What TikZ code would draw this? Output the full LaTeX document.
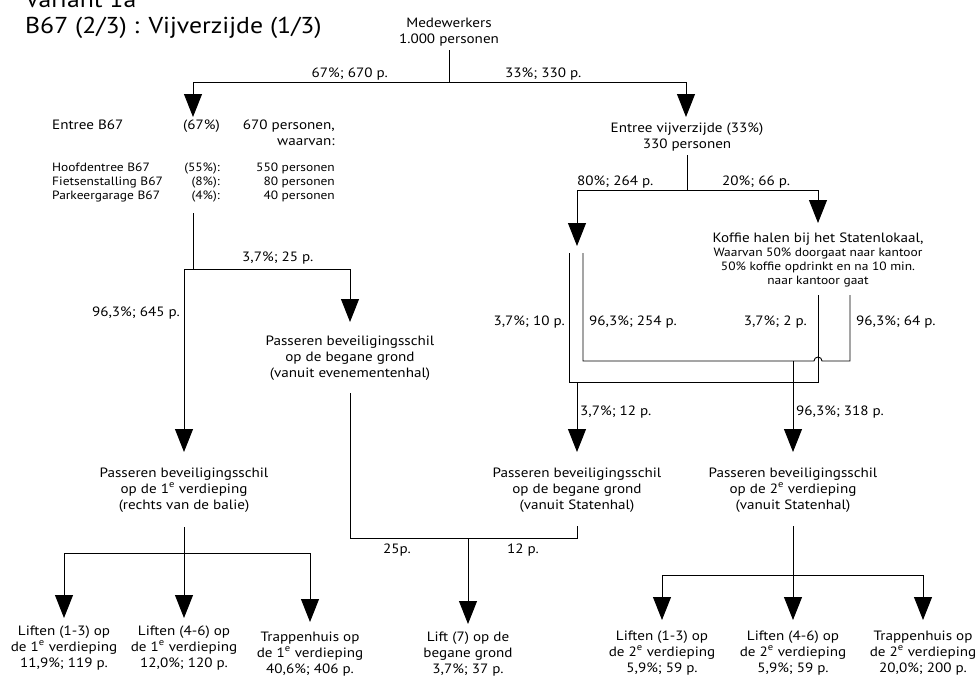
\documentclass[tikz,border=0pt]{standalone}
\usepackage{fontspec}
\setmainfont[FakeStretch=1.12]{PT Sans}
\usetikzlibrary{arrows.meta}
\begin{document}
\begin{tikzpicture}[x=1pt,y=-1pt,
  txt/.style={inner sep=0pt, align=center, font=\fontsize{13.5}{16}\selectfont},
  sml/.style={inner sep=0pt, font=\fontsize{12}{13.8}\selectfont},
  lbl/.style={inner sep=0pt, font=\fontsize{13.5}{16}\selectfont},
  ttl/.style={inner sep=0pt, font=\fontsize{23}{26}\selectfont},
  ln/.style={draw=black, line width=0.9pt},
  arr/.style={ln, -{Triangle[width=18pt,length=23pt]}},
]
\useasboundingbox (0,0) rectangle (980,675);
% titles
\node[ttl, anchor=base west] (t1) at (25,7) {Variant 1a};
\node[ttl, anchor=base west] (t2) at (25,33) {B67 (2/3) : Vijverzijde (1/3)};
% top
\node[txt, anchor=base] (med) at (449,43) {Medewerkers\\1.000 personen};
\coordinate (m0) at (449,50);
\coordinate (m1) at (449,82);
\coordinate (mL) at (193,82);
\coordinate (mR) at (686,82);
\coordinate (mLt) at (193,117);
\coordinate (mRt) at (686,117);
\draw[ln] (m0) -- (m1);
\draw[ln] (mL) -- (mR);
\draw[arr] (mL) -- (mLt);
\draw[arr] (mR) -- (mRt);
\node[lbl, anchor=base east] (l67) at (388,77) {67\%; 670 p.};
\node[lbl, anchor=base west] (l33) at (505,77) {33\%; 330 p.};
% Entree B67 block
\node[lbl, anchor=base west] (eb) at (52,129) {Entree B67};
\node[lbl, anchor=base east] (ebp) at (220,129) {(67\%)};
\node[lbl, anchor=base east, align=right] (ebn) at (335,145) {670 personen,\\waarvan:};
\node[sml, anchor=base west, align=left] (sub1) at (52,199) {Hoofdentree B67\\Fietsenstalling B67\\Parkeergarage B67};
\node[sml, anchor=base east, align=right] (sub2) at (220,199) {(55\%):\\(8\%):\\(4\%):};
\node[sml, anchor=base east, align=right] (sub3) at (335,199) {550 personen\\80 personen\\40 personen};
% left chain
\coordinate (b0) at (193,213);
\coordinate (b1) at (193,269);
\coordinate (bL) at (184,269);
\coordinate (bR) at (350,269);
\coordinate (bLt) at (184,452);
\coordinate (bRt) at (350,322);
\draw[ln] (b0) -- (b1);
\draw[ln] (bL) -- (bR);
\draw[arr] (bL) -- (bLt);
\draw[arr] (bR) -- (bRt);
\node[lbl, anchor=base west] (l25) at (242,261) {3,7\%; 25 p.};
\node[lbl, anchor=base east] (l645) at (180,316) {96,3\%; 645 p.};
% evenementenhal
\node[txt, anchor=base] (pev) at (350,377) {Passeren beveiligingsschil\\op de begane grond\\(vanuit evenementenhal)};
\coordinate (ev0) at (350,393);
\coordinate (ev1) at (350,538);
\coordinate (lj) at (468,538);
\coordinate (ljt) at (468,624);
\coordinate (st0) at (577,526);
\coordinate (st1) at (577,538);
\draw[ln] (ev0) -- (ev1) -- (st1) -- (st0);
\draw[arr] (lj) -- (ljt);
\node[lbl, anchor=base west] (l25b) at (383,553) {25p.};
\node[lbl, anchor=base west] (l12b) at (507,553) {12 p.};
\node[txt, anchor=base] (lift) at (468,673) {Lift (7) op de\\begane grond\\3,7\%; 37 p.};
% 1e verdieping
\node[txt, anchor=base] (p1) at (184,509) {Passeren beveiligingsschil\\op de 1\textsuperscript{e} verdieping\\(rechts van de balie)};
\coordinate (q0) at (184,527);
\coordinate (q1) at (184,553);
\coordinate (qL) at (64,553);
\coordinate (qR) at (310,553);
\coordinate (qLt) at (64,618);
\coordinate (q1t) at (184,618);
\coordinate (qRt) at (310,622);
\draw[ln] (q0) -- (q1);
\draw[ln] (qL) -- (qR);
\draw[arr] (qL) -- (qLt);
\draw[arr] (q1) -- (q1t);
\draw[arr] (qR) -- (qRt);
\node[txt, anchor=base] (f13) at (64,667) {Liften (1-3) op\\de 1\textsuperscript{e} verdieping\\11,9\%; 119 p.};
\node[txt, anchor=base] (f46) at (184,667) {Liften (4-6) op\\de 1\textsuperscript{e} verdieping\\12,0\%; 120 p.};
\node[txt, anchor=base] (ftr) at (310,673) {Trappenhuis op\\de 1\textsuperscript{e} verdieping\\40,6\%; 406 p.};
% right side
\node[txt, anchor=base] (evz) at (687,148) {Entree vijverzijde (33\%)\\330 personen};
\coordinate (r0) at (687,155);
\coordinate (r1) at (687,190);
\coordinate (rL) at (577,190);
\coordinate (rR) at (818,190);
\coordinate (rLt) at (577,246);
\coordinate (rRt) at (818,223);
\draw[ln] (r0) -- (r1);
\draw[ln] (rL) -- (rR);
\draw[arr] (rL) -- (rLt);
\draw[arr] (rR) -- (rRt);
\node[lbl, anchor=base west] (l80) at (577,185) {80\%; 264 p.};
\node[lbl, anchor=base west] (l20) at (722,185) {20\%; 66 p.};
\node[inner sep=0pt, align=center, anchor=base, font=\fontsize{12}{13.8}\selectfont] (kof) at (818,284)
  {{\fontsize{13.5}{16}\selectfont Koffie halen bij het Statenlokaal,}\\Waarvan 50\% doorgaat naar kantoor\\50\% koffie opdrinkt en na 10 min.\\naar kantoor gaat};
\coordinate (a0) at (569,253);
\coordinate (a1) at (569,382);
\coordinate (c0) at (583,253);
\coordinate (c1) at (583,361);
\coordinate (k0) at (818,295);
\coordinate (k1) at (818,382);
\coordinate (d0) at (850,295);
\coordinate (d1) at (850,361);
\coordinate (jp) at (814,361);
\draw[ln] (a0) -- (a1) -- (k1) -- (k0);
\draw[ln] (c0) -- (c1) -- (jp) arc[start angle=180, end angle=0, radius=4pt] -- (d1) -- (d0);
\coordinate (s1) at (577,382);
\coordinate (s1t) at (577,452);
\coordinate (s2) at (793,361);
\coordinate (s2t) at (793,452);
\draw[arr] (s1) -- (s1t);
\draw[arr] (s2) -- (s2t);
\node[lbl, anchor=base east] (l10) at (565,325) {3,7\%; 10 p.};
\node[lbl, anchor=base west] (l254) at (589,325) {96,3\%; 254 p.};
\node[lbl, anchor=base east] (l2) at (807,325) {3,7\%; 2 p.};
\node[lbl, anchor=base west] (l64) at (856,325) {96,3\%; 64 p.};
\node[lbl, anchor=base west] (l12) at (580,415) {3,7\%; 12 p.};
\node[lbl, anchor=base west] (l318) at (796,415) {96,3\%; 318 p.};
\node[txt, anchor=base] (pst) at (577,509) {Passeren beveiligingsschil\\op de begane grond\\(vanuit Statenhal)};
\node[txt, anchor=base] (p2) at (793,509) {Passeren beveiligingsschil\\op de 2\textsuperscript{e} verdieping\\(vanuit Statenhal)};
\coordinate (u0) at (793,526);
\coordinate (u1) at (793,575);
\coordinate (uL) at (662,575);
\coordinate (uR) at (923,575);
\coordinate (uLt) at (662,620);
\coordinate (u1t) at (793,620);
\coordinate (uRt) at (923,620);
\draw[ln] (u0) -- (u1);
\draw[ln] (uL) -- (uR);
\draw[arr] (uL) -- (uLt);
\draw[arr] (u1) -- (u1t);
\draw[arr] (uR) -- (uRt);
\node[txt, anchor=base] (g13) at (662,672) {Liften (1-3) op\\de 2\textsuperscript{e} verdieping\\5,9\%; 59 p.};
\node[txt, anchor=base] (g46) at (793,672) {Liften (4-6) op\\de 2\textsuperscript{e} verdieping\\5,9\%; 59 p.};
\node[txt, anchor=base] (gtr) at (923,672) {Trappenhuis op\\de 2\textsuperscript{e} verdieping\\20,0\%; 200 p.};
\end{tikzpicture}
\end{document}
